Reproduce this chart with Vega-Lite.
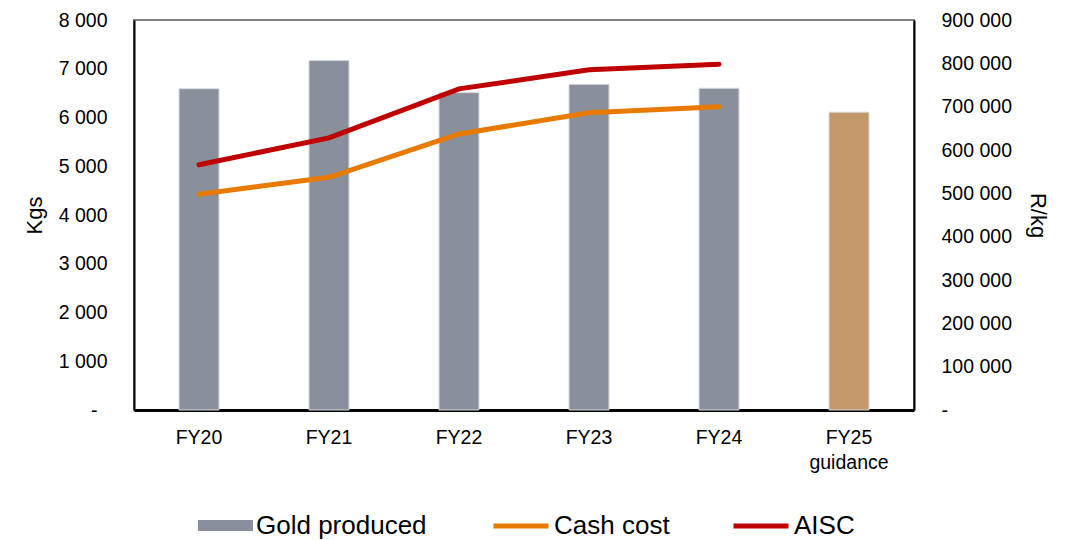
{
  "$schema": "https://vega.github.io/schema/vega-lite/v6.json",
  "width": 780,
  "height": 390,
  "autosize": {"type": "none"},
  "padding": {"left": 134, "top": 20, "right": 159, "bottom": 130},
  "background": "white",
  "config": {
    "view": {"stroke": "#808080", "strokeWidth": 2},
    "axis": {"grid": false, "ticks": false, "labelColor": "black", "titleColor": "black"}
  },
  "data": {
    "values": [
      {"year": "FY20", "gold": 6590, "Cash cost": 498000, "AISC": 566000},
      {"year": "FY21", "gold": 7170, "Cash cost": 537000, "AISC": 628000},
      {"year": "FY22", "gold": 6510, "Cash cost": 637000, "AISC": 741000},
      {"year": "FY23", "gold": 6680, "Cash cost": 686000, "AISC": 785000},
      {"year": "FY24", "gold": 6600, "Cash cost": 700000, "AISC": 798000},
      {"year": "FY25 guidance", "gold": 6110}
    ]
  },
  "encoding": {
    "x": {
      "field": "year",
      "type": "nominal",
      "sort": null,
      "scale": {"paddingInner": 0, "paddingOuter": 0},
      "axis": {
        "title": null,
        "labelAngle": 0,
        "labelFont": "Liberation Sans",
        "labelFontSize": 19.5,
        "labelPadding": 18,
        "labelLineHeight": 25,
        "domainColor": "black",
        "domainWidth": 3,
        "labelExpr": "datum.label === 'FY25 guidance' ? ['FY25', 'guidance'] : datum.label"
      }
    }
  },
  "layer": [
    {
      "mark": {"type": "bar", "size": 40, "stroke": "#D5D8DE", "strokeWidth": 1},
      "encoding": {
        "y": {
          "field": "gold",
          "type": "quantitative",
          "scale": {"domain": [0, 8000], "nice": false},
          "axis": {
            "orient": "left",
            "values": [0, 1000, 2000, 3000, 4000, 5000, 6000, 7000, 8000],
            "title": "Kgs",
            "titleFont": "Liberation Sans",
            "titleFontSize": 22,
            "titleFontWeight": "normal",
            "titlePadding": 12,
            "labelFont": "Liberation Sans",
            "labelFontSize": 19.5,
            "labelPadding": {"condition": {"test": "datum.value === 0", "value": 37}, "value": 27},
            "domainColor": "black",
            "domainWidth": 2,
            "labelExpr": "datum.value === 0 ? '-' : replace(format(datum.value, ','), ',', ' ')"
          }
        },
        "color": {
          "condition": {"test": "datum.year === 'FY25 guidance'", "value": "#C3996B"},
          "datum": "Gold produced",
          "type": "nominal",
          "title": null,
          "scale": {"domain": ["Gold produced"], "range": ["#8A8F9C"]},
          "legend": {
            "orient": "none",
            "legendX": 64,
            "legendY": 478,
            "direction": "horizontal",
            "title": null,
            "padding": 0,
            "symbolType": "M-1,-0.2H1V0.2H-1Z",
            "symbolSize": 3025,
            "symbolStrokeWidth": 0,
            "symbolOpacity": 1,
            "labelFont": "Liberation Sans",
            "labelFontSize": 26,
            "labelColor": "black",
            "labelOffset": 3,
            "labelLimit": 400
          }
        }
      }
    },
    {
      "transform": [
        {"fold": ["Cash cost", "AISC"], "as": ["series", "cost"]},
        {"filter": "isValid(datum.cost)"}
      ],
      "mark": {"type": "line", "strokeWidth": 5, "strokeCap": "round"},
      "encoding": {
        "y": {
          "field": "cost",
          "type": "quantitative",
          "scale": {"domain": [0, 900000], "nice": false},
          "axis": {
            "orient": "right",
            "values": [0, 100000, 200000, 300000, 400000, 500000, 600000, 700000, 800000, 900000],
            "title": "R/kg",
            "titleFont": "Liberation Sans",
            "titleFontSize": 22,
            "titleFontWeight": "normal",
            "titlePadding": 14,
            "labelFont": "Liberation Sans",
            "labelFontSize": 19.5,
            "labelPadding": 27,
            "domainColor": "black",
            "domainWidth": 2,
            "labelExpr": "datum.value === 0 ? '-' : replace(format(datum.value, ','), ',', ' ')"
          }
        },
        "color": {
          "field": "series",
          "type": "nominal",
          "title": null,
          "sort": ["Cash cost", "AISC"],
          "scale": {"domain": ["Cash cost", "AISC"], "range": ["#E87A00", "#C00000"]},
          "legend": {
            "orient": "none",
            "legendX": 357,
            "legendY": 476,
            "direction": "horizontal",
            "columns": 2,
            "title": null,
            "padding": 0,
            "symbolType": "stroke",
            "symbolSize": 3025,
            "symbolStrokeWidth": 5,
            "symbolOpacity": 1,
            "labelFont": "Liberation Sans",
            "labelFontSize": 26,
            "labelColor": "black",
            "labelOffset": 3,
            "labelLimit": 400,
            "columnPadding": 53
          }
        }
      }
    }
  ],
  "resolve": {"scale": {"y": "independent", "color": "independent"}}
}
